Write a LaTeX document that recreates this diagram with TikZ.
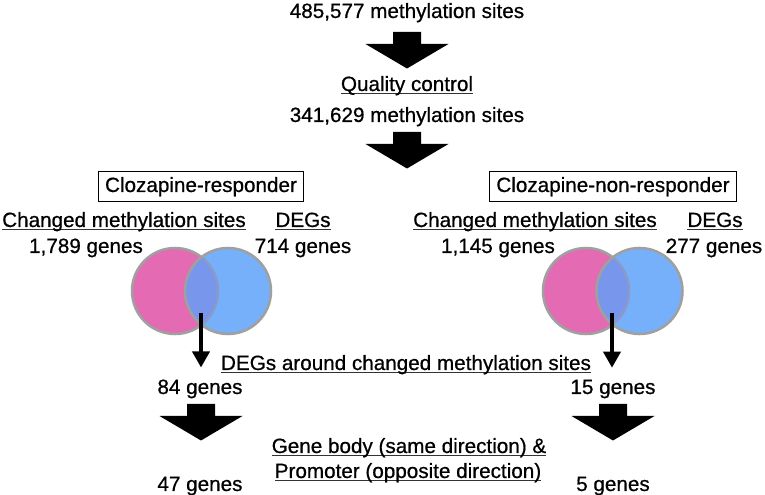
\documentclass[tikz,border=0pt]{standalone}
\usepackage{fontspec}
\setmainfont{Liberation Sans}
\newfontfamily\lblfont{Liberation Sans}[FakeBold=0.7]
\usetikzlibrary{arrows.meta}

\definecolor{methpink}{RGB}{227,106,179}
\definecolor{degblue}{RGB}{118,176,250}
\definecolor{bothblue}{RGB}{120,150,235}
\definecolor{rimgray}{RGB}{160,160,160}

\newcommand{\ulined}[1]{\setbox0\hbox{#1}\rlap{\color{black!80}\rule[-2.4pt]{\wd0}{0.9pt}}\box0}

\tikzset{every picture/.style={line width=0.75pt}}
\tikzset{
  lbl/.style={anchor=base,inner sep=0.75pt,font=\lblfont\fontsize{15.5}{18}\selectfont},
  groupbox/.style={lbl,draw,line width=1.1pt,inner xsep=5pt,inner ysep=4pt},
  venn/.style={draw=rimgray,line width=1.9pt},
  thinarrow/.style={line width=2.3pt,-{Triangle[width=13pt,length=12pt]}},
  blockarrow/.pic={
    \fill (-14,0) -- (14,0) -- (14,-12) -- (41.5,-12) -- (0,-36.5) -- (-41.5,-12) -- (-14,-12) -- cycle ;
  },
}

\begin{document}
\begin{tikzpicture}[x=0.75pt,y=0.75pt,yscale=-1,xscale=1]
        \useasboundingbox (0,0) rectangle (765,495);

        % Text Node
        \node [lbl] (all-sites) at (407,18) {485,577 methylation sites};
        \node [lbl] (qc) at (407,91) {\ulined{Quality control}};
        \node [lbl] (qc-sites) at (407,122) {341,629 methylation sites};

        %Shape: Arrow
        \pic at (407,32) {blockarrow};
        \pic at (407,132) {blockarrow};

        % Group boxes
        \node [groupbox] (resp-box) at (201,192) {Clozapine-responder};
        \node [groupbox] (nonresp-box) at (613,192) {Clozapine-non-responder};

        % Text Node
        \node [lbl] (resp-meth) at (124,227) {\ulined{Changed methylation sites}};
        \node [lbl] (resp-deg) at (303,227) {\ulined{DEGs}};
        \node [lbl] (resp-meth-n) at (86,253) {1,789 genes};
        \node [lbl] (resp-deg-n) at (303,253) {714 genes};
        \node [lbl] (nonresp-meth) at (535,227) {\ulined{Changed methylation sites}};
        \node [lbl] (nonresp-deg) at (715,227) {\ulined{DEGs}};
        \node [lbl] (nonresp-meth-n) at (498,253) {1,145 genes};
        \node [lbl] (nonresp-deg-n) at (714,253) {277 genes};

        %Shape: Venn circles
        \foreach \cx/\dx in {175/53,586/53.5} {
          \fill [methpink] (\cx,291) circle (43) ;
          \fill [degblue] (\cx+\dx,291) circle (43) ;
          \begin{scope}
            \clip (\cx+\dx,291) circle (43) ;
            \fill [bothblue] (\cx,291) circle (43) ;
            \draw [draw=rimgray!45!bothblue,line width=1.9pt] (\cx,291) circle (43) ;
          \end{scope}
          \begin{scope}
            \clip (-10,-10) rectangle (800,520) (\cx+\dx,291) circle (43) ;
            \draw [venn] (\cx,291) circle (43) ;
          \end{scope}
          \draw [venn] (\cx+\dx,291) circle (43) ;
        }

        % Overlap
        \coordinate (resp-ov) at (201,313);
        \coordinate (nonresp-ov) at (612,313);
        \node [lbl] (around) at (406,370) {\ulined{DEGs around changed methylation sites}};
        \node [lbl] (resp-hits) at (200,394) {84 genes};
        \node [lbl] (nonresp-hits) at (613,394) {15 genes};
        \draw [thinarrow,shorten >=8pt] (resp-ov) -- (resp-ov |- resp-hits.north) ;
        \draw [thinarrow,shorten >=8pt] (nonresp-ov) -- (nonresp-ov |- nonresp-hits.north) ;

        %Shape: Arrow
        \pic at (201,404) {blockarrow};
        \pic at (613,404) {blockarrow};

        % Text Node
        \node [lbl] (body) at (409,453) {\ulined{Gene body (same direction) \&}};
        \node [lbl] (promoter) at (408,478) {\ulined{Promoter (opposite direction)}};
        \node [lbl] (resp-final) at (200,491) {47 genes};
        \node [lbl] (nonresp-final) at (613,491) {5 genes};
\end{tikzpicture}
\end{document}
